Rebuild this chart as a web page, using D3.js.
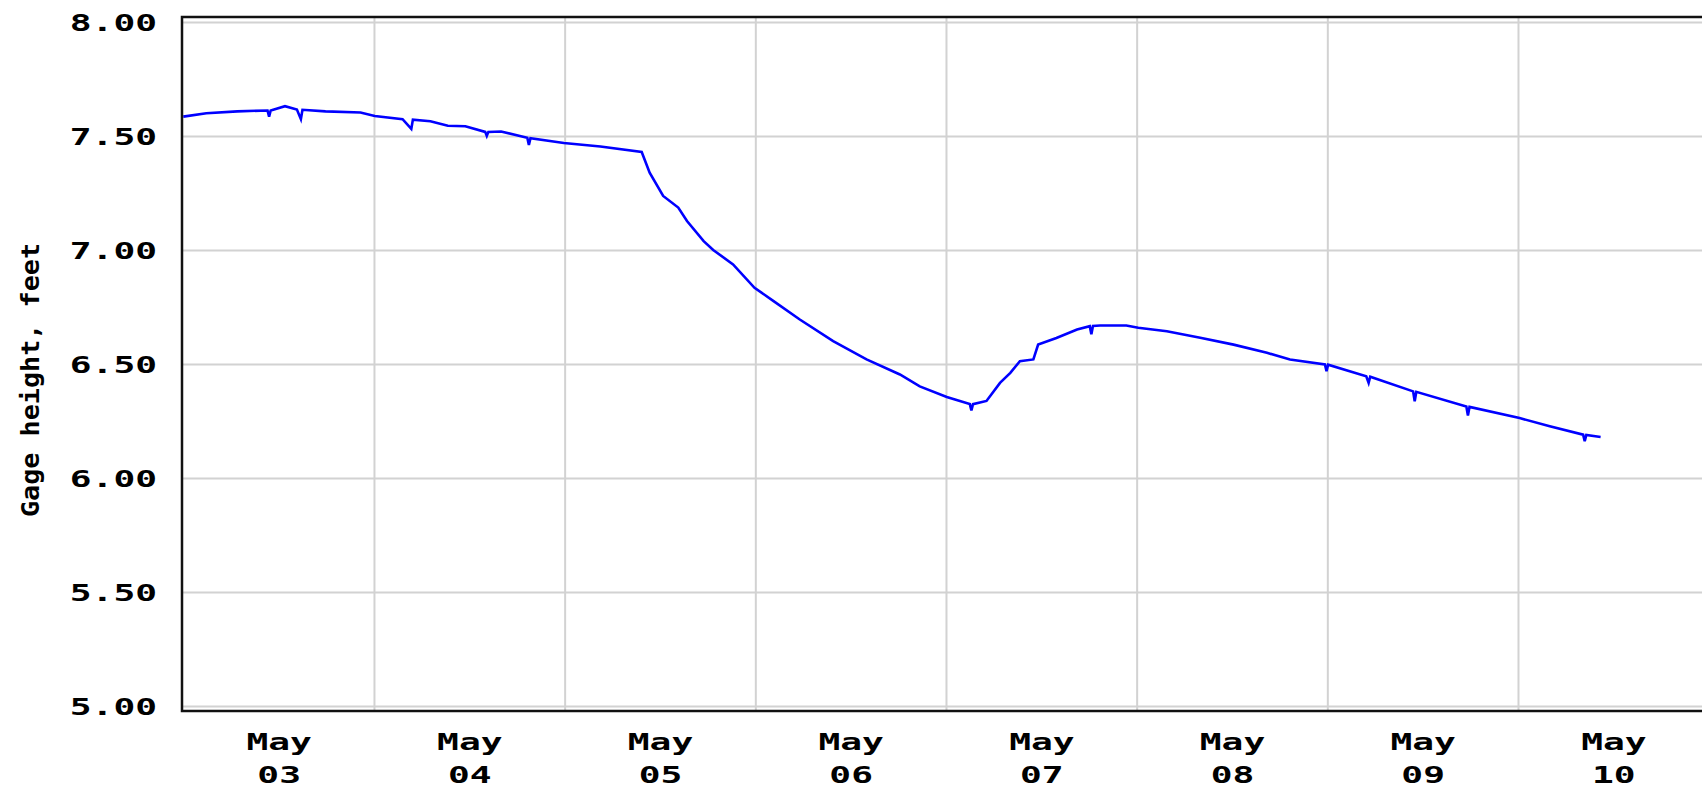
<!DOCTYPE html>
<html>
<head>
<meta charset="utf-8">
<script src="https://cdn.jsdelivr.net/npm/d3@7"></script>
<style>
  html, body { margin: 0; padding: 0; background: #fff; }
  svg { display: block; }
</style>
</head>
<body>
<svg id="chart" width="1702" height="788"></svg>
<script>
// ---- data ----
const startDay = "2024-05-03";          // left edge of plot = May 03 00:00
const spanDays = 8;                      // May 03 .. May 11
const hoursSinceStart = [
  0, 2.9, 6.8, 10.6, 10.8, 11.0, 12.8, 14.3, 14.8, 15.0, 17.9, 22.3, 24.1, 27.6,
  28.7, 28.9, 31.1, 33.3, 35.5, 38.0, 38.2, 38.4, 40.0, 43.3, 43.5, 43.7, 47.9,
  52.5, 57.7, 58.7, 60.4, 62.3, 63.4, 65.5, 66.7, 69.2, 71.9, 74.3, 77.6, 81.8,
  86.0, 90.2, 92.7, 96.1, 99.0, 99.2, 99.4, 101.1, 102.8, 104.1, 105.3, 107.0,
  107.6, 109.9, 112.5, 114.1, 114.3, 114.5, 115.4, 118.7, 120.2, 123.8, 128.0,
  132.2, 136.4, 139.3, 143.7, 143.9, 144.1, 148.9, 149.2, 149.4, 154.8, 155.0,
  155.2, 161.5, 161.7, 161.9, 168.2, 172.0, 176.2, 176.4, 176.6, 178.4
];
const gageHeight = [
  7.585, 7.600, 7.608, 7.612, 7.585, 7.612, 7.631, 7.616, 7.574, 7.615, 7.608, 7.603, 7.588, 7.574,
  7.531, 7.572, 7.565, 7.545, 7.543, 7.518, 7.500, 7.518, 7.520, 7.492, 7.461, 7.490, 7.469,
  7.454, 7.430, 7.339, 7.237, 7.186, 7.127, 7.039, 7.000, 6.937, 6.834, 6.776, 6.695, 6.600,
  6.520, 6.454, 6.402, 6.355, 6.324, 6.296, 6.324, 6.338, 6.417, 6.461, 6.512, 6.520,
  6.585, 6.614, 6.651, 6.666, 6.630, 6.667, 6.669, 6.669, 6.659, 6.644, 6.615,
  6.585, 6.549, 6.520, 6.498, 6.468, 6.497, 6.446, 6.417, 6.444, 6.380, 6.336,
  6.378, 6.314, 6.274, 6.312, 6.263, 6.227, 6.190, 6.161, 6.189, 6.180
];
const yTicks = [5.0, 5.5, 6.0, 6.5, 7.0, 7.5, 8.0];
const yTickLabels = ["5.00", "5.50", "6.00", "6.50", "7.00", "7.50", "8.00"];
const dayLabels = ["03", "04", "05", "06", "07", "08", "09", "10"];
const monthLabel = "May";
const yTitle = "Gage height, feet";

// ---- layout ----
const svg = d3.select("#chart");
const plotLeft = 183.3, dayWidth = 190.67;
const frame = { x: 182, y: 17, bottom: 711, right: 1712 };

const t0 = d3.timeParse("%Y-%m-%d")(startDay);
const t1 = d3.timeDay.offset(t0, spanDays);
const x = d3.scaleTime().domain([t0, t1]).range([plotLeft, plotLeft + spanDays * dayWidth]);
const y = d3.scaleLinear().domain([5, 8]).range([706, 22]);

const data = hoursSinceStart.map((h, i) => ({ t: new Date(t0.getTime() + h * 3600e3), v: gageHeight[i] }));

// ---- grid ----
const gridColor = "#d2d2d2";
const hGrid = svg.append("g")
  .attr("transform", `translate(${frame.x},0)`)
  .call(d3.axisLeft(y).tickValues(yTicks).tickSize(-(frame.right - frame.x)).tickFormat(""));
hGrid.select(".domain").remove();
hGrid.selectAll("line").attr("stroke", gridColor).attr("stroke-width", 2);

const dayBounds = d3.timeDay.range(d3.timeDay.offset(t0, 1), t1);
const vGrid = svg.append("g")
  .attr("transform", `translate(0,${frame.bottom})`)
  .call(d3.axisBottom(x).tickValues(dayBounds).tickSize(-(frame.bottom - frame.y)).tickFormat(""));
vGrid.select(".domain").remove();
vGrid.selectAll("line").attr("stroke", gridColor).attr("stroke-width", 2);

// ---- line ----
const line = d3.line().x(d => x(d.t)).y(d => y(d.v));
svg.append("path")
  .datum(data)
  .attr("fill", "none")
  .attr("stroke", "#0000ff")
  .attr("stroke-width", 2.6)
  .attr("stroke-linejoin", "miter")
  .attr("d", line);

// ---- frame ----
svg.append("rect")
  .attr("x", frame.x).attr("y", frame.y)
  .attr("width", frame.right - frame.x).attr("height", frame.bottom - frame.y)
  .attr("fill", "none").attr("stroke", "#111").attr("stroke-width", 2.5);

// ---- y tick labels ----
const labelFont = "'DejaVu Sans Mono', 'Liberation Mono', monospace";
const charW = 21.8;
const yAxis = svg.append("g")
  .attr("transform", `translate(157,0)`)
  .call(d3.axisLeft(y).tickValues(yTicks).tickSize(0)
    .tickFormat((d, i) => yTickLabels[yTicks.indexOf(d)]));
yAxis.select(".domain").remove();
yAxis.selectAll("text")
  .attr("x", 0)
  .attr("dy", "0.36em")
  .attr("text-anchor", "end")
  .attr("font-family", labelFont)
  .attr("font-weight", "bold")
  .attr("font-size", 23)
  .attr("fill", "#000")
  .attr("textLength", d => charW * yTickLabels[yTicks.indexOf(d)].length)
  .attr("lengthAdjust", "spacingAndGlyphs");

// ---- x tick labels (two lines, centered at noon) ----
const noons = d3.range(spanDays).map(i => d3.timeHour.offset(d3.timeDay.offset(t0, i), 12));
const xAxis = svg.append("g")
  .attr("transform", `translate(0,${frame.bottom})`)
  .call(d3.axisBottom(x).tickValues(noons).tickSize(0).tickFormat(""));
xAxis.select(".domain").remove();
xAxis.selectAll(".tick").each(function (d, i) {
  const g = d3.select(this);
  g.append("text").text(monthLabel)
    .attr("y", 39).attr("text-anchor", "middle")
    .attr("font-family", labelFont).attr("font-weight", "bold").attr("font-size", 23)
    .attr("fill", "#000")
    .attr("textLength", charW * 3).attr("lengthAdjust", "spacingAndGlyphs");
  g.append("text").text(dayLabels[i])
    .attr("y", 72).attr("text-anchor", "middle")
    .attr("font-family", labelFont).attr("font-weight", "bold").attr("font-size", 23)
    .attr("fill", "#000")
    .attr("textLength", charW * 2).attr("lengthAdjust", "spacingAndGlyphs");
});

// ---- y title ----
svg.append("text")
  .attr("transform", "translate(39,380) rotate(-90)")
  .attr("text-anchor", "middle")
  .attr("font-family", labelFont)
  .attr("font-weight", "bold")
  .attr("font-size", 24)
  .attr("fill", "#000")
  .attr("textLength", 274)
  .attr("lengthAdjust", "spacingAndGlyphs")
  .text(yTitle);
</script>
</body>
</html>
